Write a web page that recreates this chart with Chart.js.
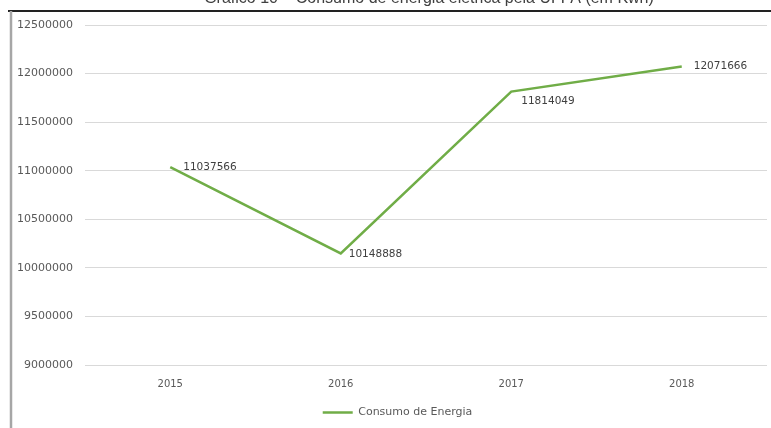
<!DOCTYPE html>
<html>
<head>
<meta charset="utf-8">
<script src="https://cdn.jsdelivr.net/npm/chart.js@4.4.1/dist/chart.umd.min.js"></script>
<style>
  html, body { margin: 0; padding: 0; background: #fff; }
  #wrap { width: 771px; height: 428px; }
</style>
</head>
<body>
<div id="wrap"><canvas id="chart" width="771" height="428"></canvas></div>
<script>
const titleText = "Gráfico 10 – Consumo de energia elétrica pela UFPA (em Kwh)";
const seriesName = "Consumo de Energia";
const years = ["2015", "2016", "2017", "2018"];
const consumo = [11037566, 10148888, 11814049, 12071666];
const yMin = 9000000;
const yMax = 12500000;
const yStep = 500000;

const FONT = '"DejaVu Sans", "Liberation Sans", sans-serif';
const GREEN = "#70ad47";

// page frame (top rule, left rule) and the cropped title above it
const framePlugin = {
    id: "frame",
    afterLayout(chart) {
        // legend sits a little right of the canvas centre
        if (chart.legend) {
            chart.legend.left += 14;
            chart.legend.right += 14;
        }
    },
    afterDraw(chart) {
        const c = chart.ctx;
        c.save();
        c.fillStyle = "#404040";
        c.font = '16px "Liberation Sans", sans-serif';
        c.textAlign = "center";
        c.textBaseline = "alphabetic";
        c.fillText(titleText, 429, 3);

        c.strokeStyle = "#222";
        c.lineWidth = 2;
        c.beginPath();
        c.moveTo(8, 11);
        c.lineTo(chart.width, 11);
        c.stroke();

        c.strokeStyle = "#a6a6a6";
        c.lineWidth = 2.5;
        c.beginPath();
        c.moveTo(11, 11);
        c.lineTo(11, chart.height);
        c.stroke();
        c.restore();
    },
};

// value labels next to each point
const valueLabels = {
    id: "valueLabels",
    afterDatasetsDraw(chart, args, opts) {
        const c = chart.ctx;
        const meta = chart.getDatasetMeta(0);
        const data = chart.data.datasets[0].data;
        c.save();
        c.font = opts.font;
        c.fillStyle = opts.color;
        c.textAlign = "left";
        c.textBaseline = "middle";
        meta.data.forEach((pt, i) => {
            const [dx, dy] = opts.offsets[i];
            c.fillText(String(data[i]), pt.x + dx, pt.y + dy);
        });
        c.restore();
    },
};

new Chart(document.getElementById("chart"), {
    type: "line",
    data: {
        labels: years,
        datasets: [{
            label: seriesName,
            data: consumo,
            borderColor: GREEN,
            backgroundColor: GREEN,
            borderWidth: 2.5,
            pointRadius: 0,
            tension: 0,
        }],
    },
    options: {
        responsive: false,
        animation: false,
        layout: { padding: { left: 0, right: 4, top: 25, bottom: 0 } },
        scales: {
            x: {
                offset: true,
                grid: { display: false, drawTicks: false },
                border: { display: false },
                ticks: { color: "#595959", font: { family: FONT, size: 10 }, padding: 13 },
                afterFit: (s) => { s.height = 32; },
            },
            y: {
                min: yMin,
                max: yMax,
                ticks: {
                    stepSize: yStep,
                    color: "#595959",
                    font: { family: FONT, size: 11 },
                    padding: 12,
                    callback: (v) => String(v),
                },
                grid: { color: "#d9d9d9", lineWidth: 1, drawTicks: false },
                border: { display: false },
                afterFit: (s) => { s.width = 85; },
            },
        },
        plugins: {
            legend: {
                position: "bottom",
                labels: {
                    usePointStyle: true,
                    pointStyle: "line",
                    pointStyleWidth: 30,
                    color: "#595959",
                    font: { family: FONT, size: 11 },
                    padding: 10,
                },
            },
            tooltip: { enabled: false },
            valueLabels: {
                font: "10.5px " + FONT,
                color: "#404040",
                offsets: [[13, 0], [8, 1], [10, 10], [12, 0]],
            },
        },
    },
    plugins: [framePlugin, valueLabels],
});
</script>
</body>
</html>
